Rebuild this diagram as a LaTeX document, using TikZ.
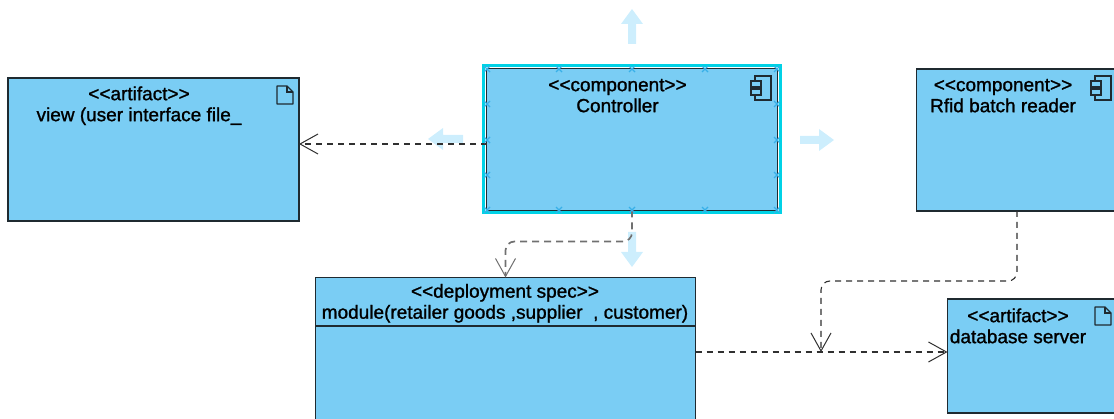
\documentclass[tikz,border=0pt]{standalone}
\usepackage{fontspec}
\setmainfont{Liberation Sans}[FakeBold=1.2]
\usetikzlibrary{arrows.meta,calc}
\definecolor{boxfill}{HTML}{7ACDF4}
\definecolor{boxline}{HTML}{1F2A30}
\definecolor{selcyan}{HTML}{00D2E6}
\definecolor{handlec}{HTML}{38B0E8}
\definecolor{paleblue}{HTML}{CDEEFD}
\definecolor{dashgrey}{HTML}{707070}
\definecolor{dashdark}{HTML}{303030}
\newcommand{\ltlt}{{<}\kern0pt{<}}
\newcommand{\gtgt}{{>}\kern0pt{>}}
\tikzset{
  x=1pt,y=-1pt,
  umlbox/.style={draw=boxline,fill=boxfill,line width=1.1pt,inner sep=0pt,outer sep=0pt,anchor=north west},
  umltext/.style={font=\fontsize{19}{21}\selectfont,align=center,text=black,inner sep=0pt,anchor=north,text depth=0pt},
  dep/.style={draw=dashdark,line width=1.1pt,dash pattern=on 6pt off 5pt,rounded corners=9pt},
  depgrey/.style={dep,draw=dashgrey,line width=1.7pt,dash pattern=on 7pt off 5pt},
  openhead/.style={-{Straight Barb[length=18pt,width=20pt,line width=1pt]}},
  blockarrow/.style={fill=paleblue,draw=none},
  handle/.style={handlec,line width=1.2pt},
  icon/.style={draw=boxline,line width=1.2pt,fill=none},
  pics/compicon/.style={code={
    \draw[icon] (4,0) -- (20,0) -- (20,24) -- (4,24) -- cycle;
    \draw[icon,fill=boxfill] (0,5) rectangle (10,11);
    \draw[icon,fill=boxfill] (0,13) rectangle (10,19);
  }},
  pics/docicon/.style={code={
    \draw[icon,line join=round] (0,1) -- (10,1) -- (16,7) -- (16,19) -- (0,19) -- cycle;
    \draw[icon] (10,1) -- (10,7) -- (16,7);
  }},
}
\begin{document}
\begin{tikzpicture}
\useasboundingbox (0,0) rectangle (1114,419);
\clip (0,0) rectangle (1114,419);

% pale resize arrows
\fill[blockarrow] (632,9) -- (643,24) -- (636,24) -- (636,44) -- (628,44) -- (628,24) -- (621,24) -- cycle;
\fill[blockarrow] (834,140) -- (819,129) -- (819,136) -- (800,136) -- (800,144) -- (819,144) -- (819,151) -- cycle;
\fill[blockarrow] (428,139) -- (443,128) -- (443,135) -- (463,135) -- (463,143) -- (443,143) -- (443,150) -- cycle;
\fill[blockarrow] (632,267) -- (643,252) -- (636,252) -- (636,232) -- (628,232) -- (628,252) -- (621,252) -- cycle;

% selection outline
\draw[selcyan,line width=3pt] (483,65.5) rectangle (780,212.5);

% boxes
\node[umlbox,minimum width=291pt,minimum height=143pt] (view) at (8,78) {};
\node[umlbox,minimum width=291pt,minimum height=142pt] (ctrl) at (486.5,68.5) {};
\node[umlbox,minimum width=220pt,minimum height=142pt] (rfid) at (916.5,69) {};
\node[umlbox,minimum width=200pt,minimum height=114pt] (db) at (947.5,299) {};
\node[umlbox,minimum width=380pt,minimum height=170pt] (module) at (315.5,277.5) {};
\draw[boxline,line width=1.3pt] (module.west |- 0,326) -- (module.east |- 0,326);

% labels
\node[umltext] (viewl) at (139,86.2) {\ltlt artifact\gtgt\\view (user interface file\_};
\node[umltext] (ctrll) at (617.5,78.7) {\ltlt component\gtgt\\Controller};
\node[umltext] (rfidl) at (1003,78.7) {\ltlt component\gtgt\\Rfid batch reader};
\node[umltext] (dbl) at (1018,308.2) {\ltlt artifact\gtgt\\database server};
\node[umltext] (modl) at (505,283.7) {\ltlt deployment spec\gtgt\\module(retailer goods ,supplier\ \ , customer)};

% icons
\pic at (751,76) {compicon};
\pic at (1091,76) {compicon};
\pic at (277,85) {docicon};
\pic at (1095,306) {docicon};

% connectors
\coordinate (junction) at (821,352);
\draw[dep,openhead] ($(ctrl.west)+(0,4.5)$) -- (view.east |- 0,144);
\draw[depgrey,openhead] (ctrl.south) -- ++(0,31) -| ($(module.north west)+(190,0)$);
\draw[dep,openhead] (rfid.south west -| 1017,211) -- (1017,281) -| (junction);
\draw[dep,openhead] (module.east |- junction) -- (db.west |- junction);

% selection handles
\foreach \hx in {487,559,632,705,777}{
  \foreach \hy in {69,210}{
    \draw[handle] (\hx-3,\hy-3) -- (\hx+3,\hy+3) (\hx-3,\hy+3) -- (\hx+3,\hy-3);
  }
}
\foreach \hx in {487,777}{
  \foreach \hy in {104,140,175}{
    \draw[handle] (\hx-3,\hy-3) -- (\hx+3,\hy+3) (\hx-3,\hy+3) -- (\hx+3,\hy-3);
  }
}
\end{tikzpicture}
\end{document}
